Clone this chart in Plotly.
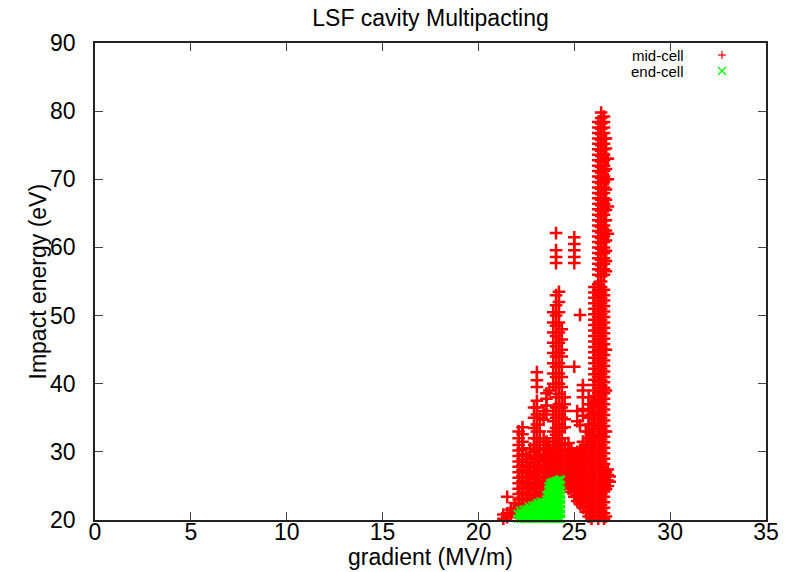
import plotly.graph_objects as go

# ---- data: mid-cell (red +) grouped by gradient column ----
mid_col_x = [21.3, 21.5, 21.7, 21.9, 22.1, 22.3, 22.5, 22.7, 22.9, 23.05, 23.2, 23.4,
             23.55, 23.7, 23.9, 24.05, 24.2, 24.35, 24.5, 24.7, 24.85, 25.0, 25.15,
             25.3, 25.45, 25.6, 25.75, 25.9, 26.05, 26.25, 26.4, 26.55, 26.65, 26.75, 26.85]
mid_col_y = [
    [20.2, 20.8],
    [20.4, 21.0, 23.4],
    [20.8, 21.5],
    [21.1, 21.8, 22.5],
    [21.4, 22.2, 23.0, 23.8, 24.6, 25.4, 26.2, 27.0, 27.8, 28.6, 29.4, 30.2, 31.0, 32.0, 33.0],
    [21.7, 22.5, 23.3, 24.1, 24.9, 25.7, 26.5, 27.3, 28.1, 28.9, 29.7, 30.5, 31.5, 32.6, 33.6],
    [22.1, 22.9, 23.7, 24.5, 25.3, 26.1, 26.9, 27.7, 28.5, 29.5],
    [22.4, 23.2, 24.0, 24.8, 25.6, 26.4, 27.2, 28.0, 29.0, 30.5],
    [22.8, 23.6, 24.4, 25.2, 26.0, 26.8, 27.6, 28.4, 29.2, 30.0, 31.0, 32.0, 33.5, 35.0, 36.5],
    [23.0, 23.8, 24.6, 25.4, 26.2, 27.0, 27.8, 28.6, 29.4, 30.2, 31.0, 32.0, 33.0, 34.0, 35.5,
     36.5, 37.5, 39.5, 40.5, 41.7],
    [23.3, 24.1, 24.9, 25.7, 26.5, 27.3, 28.1, 28.9, 29.7, 30.5, 31.5, 33.0, 35.0],
    [23.7, 24.5, 25.3, 26.1, 26.9, 27.7, 28.5, 29.3, 30.3, 32.0, 34.7, 36.0],
    [24.0, 24.8, 25.6, 26.4, 27.2, 28.0, 28.8, 29.6, 30.5, 31.5, 35.5, 36.8, 37.8, 38.6],
    [24.3, 25.1, 25.9, 26.7, 27.5, 28.3, 29.1, 30.0, 31.0, 39.0],
    [24.6, 25.4, 26.2, 27.0, 27.8, 28.6, 29.4, 30.2, 31.0, 32.0, 33.0, 34.5, 36.0, 40.0, 41.5,
     43.0, 44.5, 46.0, 47.5, 49.0, 50.5],
    [25.0, 25.8, 26.6, 27.4, 28.2, 29.0, 29.8, 30.6, 31.5, 32.5, 33.5, 35.0, 36.5, 38.0, 39.5,
     41.0, 42.5, 44.0, 45.5, 47.0, 48.5, 50.0, 51.5, 53.0, 57.7, 58.6, 59.6, 62.1],
    [25.3, 26.1, 26.9, 27.7, 28.5, 29.3, 30.1, 31.0, 32.0, 33.0, 34.0, 35.5, 37.0, 38.5, 40.0,
     41.5, 43.0, 44.5, 46.0, 47.5, 49.0, 50.5, 52.0, 53.5],
    [25.4, 26.2, 27.0, 27.8, 28.6, 29.4, 30.2, 31.0, 32.0, 33.5, 35.0, 36.5, 38.0, 39.5, 41.0,
     42.5, 44.0, 45.0, 46.5, 48.0],
    [25.2, 26.0, 26.8, 27.6, 28.4, 29.2, 30.0, 31.0, 33.6, 34.8, 36.0, 37.0, 38.0],
    [24.6, 25.4, 26.2, 27.0, 27.8, 28.6, 29.4, 30.2, 31.3],
    [24.1, 24.9, 25.7, 26.5, 27.3, 28.1, 28.9, 29.7, 30.5],
    [23.4, 24.2, 25.0, 25.8, 26.6, 27.4, 28.2, 29.0, 29.8, 42.5, 57.7, 58.6, 59.6, 60.5, 61.5],
    [22.8, 23.6, 24.4, 25.2, 26.0, 26.8, 27.6, 28.4, 29.2, 30.0, 34.5, 36.0],
    [22.3, 23.1, 23.9, 24.7, 25.5, 26.3, 27.1, 27.9, 28.7, 29.5, 30.3, 33.9, 50.1],
    [21.8, 22.6, 23.4, 24.2, 25.0, 25.8, 26.6, 27.4, 28.2, 29.0, 29.8, 30.6, 31.5, 35.3, 36.3,
     38.0, 39.0, 39.8],
    [21.2, 22.0, 22.8, 23.6, 24.4, 25.2, 26.0, 26.8, 27.6, 28.4, 29.2, 30.0, 31.0, 33.0],
    [20.5, 21.3, 22.1, 22.9, 23.7, 24.5, 25.3, 26.1, 26.9, 27.7, 28.5, 29.3, 30.1, 31.0, 32.0,
     33.0, 34.0, 35.0, 36.0, 37.0, 38.0],
    [20.2, 21.0, 21.8, 22.6, 23.4, 24.2, 25.0, 25.8, 26.6, 27.4, 28.2, 29.0, 29.8, 30.6, 31.4,
     32.5, 34.0, 35.5, 37.0],
    [20.6, 21.4, 22.2, 23.0, 23.8, 24.6, 25.4, 26.2, 27.0, 27.8, 28.6, 29.4, 30.2, 31.0, 31.8,
     32.6, 33.4, 34.2, 35.0, 35.8, 36.6, 37.4, 38.2, 39.0, 39.8, 40.6, 41.4, 42.2, 43.0, 43.8,
     44.6, 45.4, 46.2, 47.0, 47.8, 48.6, 49.4, 50.2, 51.0, 51.8, 52.6, 53.4, 54.2],
    [20.2, 21.0, 21.8, 22.6, 23.4, 24.2, 25.0, 25.8, 26.6, 27.4, 28.2, 29.0, 29.8, 30.6, 31.4,
     32.2, 33.0, 33.8, 34.6, 35.4, 36.2, 37.0, 37.8, 38.6, 39.4, 40.2, 41.0, 41.8, 42.6, 43.4,
     44.2, 45.0, 45.8, 46.6, 47.4, 48.2, 49.0, 49.8, 50.6, 51.4, 52.2, 53.0, 53.8, 54.6, 56.0,
     56.8, 57.6, 58.4, 59.2, 60.0, 60.8, 61.6, 62.4, 63.2, 64.0, 64.8, 65.6, 66.4, 67.2, 68.0,
     68.8, 69.6, 70.4, 71.2, 72.0, 72.8, 73.6, 74.4, 75.2, 76.0, 76.8, 77.6, 78.4],
    [20.6, 21.4, 22.2, 23.0, 23.8, 24.6, 25.4, 26.2, 27.0, 27.8, 28.6, 29.4, 30.2, 31.0, 31.8,
     32.6, 33.4, 34.2, 35.0, 35.8, 36.6, 37.4, 38.2, 39.0, 39.8, 40.6, 41.4, 42.2, 43.0, 43.8,
     44.6, 45.4, 46.2, 47.0, 47.8, 48.6, 49.4, 50.2, 51.0, 51.8, 52.6, 53.4, 54.2, 55.0, 55.8,
     56.6, 57.4, 58.2, 59.0, 59.8, 60.6, 61.4, 62.2, 63.0, 63.8, 64.6, 65.4, 66.2, 67.0, 67.8,
     68.6, 69.4, 70.2, 71.0, 71.8, 72.6, 73.4, 74.2, 75.0, 75.8, 76.6, 77.4, 78.2, 79.0, 79.8],
    [20.2, 21.0, 21.8, 22.6, 23.4, 24.2, 25.0, 25.8, 26.6, 27.4, 28.2, 29.0, 29.8, 30.6, 31.4,
     32.2, 33.0, 33.8, 34.6, 35.4, 36.2, 37.0, 37.8, 38.6, 39.4, 40.2, 41.0, 41.8, 42.6, 43.4,
     44.2, 45.0, 45.8, 46.6, 47.4, 48.2, 49.0, 49.8, 50.6, 51.4, 52.2, 53.0, 53.8, 56.0, 56.8,
     57.6, 58.4, 59.2, 60.0, 60.8, 61.6, 62.4, 63.2, 64.0, 64.8, 65.6, 66.4, 67.2, 68.0, 68.8,
     69.6, 70.4, 71.2, 72.0, 72.8, 73.6, 74.4, 75.2, 76.0, 76.8, 77.6, 78.4, 79.2],
    [20.5, 24.5, 27.0, 33.0, 39.0, 45.0, 56.5, 58.0, 59.5, 61.0, 62.5, 64.0, 65.5, 67.0, 68.5,
     70.0, 71.5, 73.0, 74.5, 76.0],
    [25.0, 25.8, 26.6, 27.4, 62.0, 66.0, 70.0, 73.0],
    [25.6, 26.4],
]

# ---- data: end-cell (green x) grouped by gradient column ----
end_col_x = [22.05, 22.2, 22.35, 22.5, 22.65, 22.8, 22.95, 23.1, 23.25, 23.4,
             23.55, 23.65, 23.75, 23.85, 23.95, 24.05, 24.15, 24.25, 24.3]
end_col_y = [
    [20.2, 20.9],
    [20.2, 20.9, 21.3],
    [20.2, 20.9, 21.5],
    [20.2, 20.9, 21.6],
    [20.2, 20.9, 21.6, 21.9],
    [20.2, 20.9, 21.6, 22.1],
    [20.2, 20.9, 21.6, 22.2],
    [20.2, 20.9, 21.6, 22.3, 22.5],
    [20.2, 20.9, 21.6, 22.3, 22.7],
    [20.2, 20.9, 21.6, 22.3, 22.6],
    [20.2, 20.9, 21.6, 22.3, 23.0, 23.6],
    [20.2, 20.9, 21.6, 22.3, 23.0, 23.7, 24.4, 24.9],
    [20.2, 20.9, 21.6, 22.3, 23.0, 23.7, 24.4, 25.1, 25.4],
    [20.2, 20.9, 21.6, 22.3, 23.0, 23.7, 24.4, 25.1, 25.5],
    [20.2, 20.9, 21.6, 22.3, 23.0, 23.7, 24.4, 25.1, 25.6],
    [20.2, 20.9, 21.6, 22.3, 23.0, 23.7, 24.4, 25.1, 25.7],
    [20.2, 20.9, 21.6, 22.3, 23.0, 23.7, 24.4, 25.1, 25.8],
    [20.2, 20.9, 21.6, 22.3, 23.0, 23.7, 24.4, 25.1, 25.9],
    [20.2, 20.9, 21.6, 22.3, 23.0, 23.7, 24.4, 25.1, 25.9],
]

x_ticks = [0, 5, 10, 15, 20, 25, 30, 35]
y_ticks = [20, 30, 40, 50, 60, 70, 80, 90]


def flatten(cols_x, cols_y):
    xs, ys = [], []
    for cx, cy in zip(cols_x, cols_y):
        for v in cy:
            xs.append(cx)
            ys.append(v)
    return xs, ys


mid_x, mid_y = flatten(mid_col_x, mid_col_y)
end_x, end_y = flatten(end_col_x, end_col_y)

RED = "#ff0000"
GREEN = "#00ff00"
FONT = "Liberation Sans"

fig = go.Figure()
fig.add_trace(go.Scatter(
    x=mid_x, y=mid_y, mode="markers", name="mid-cell", cliponaxis=False,
    marker=dict(symbol="cross-thin", size=9, color=RED, line=dict(color=RED, width=2.5)),
))
fig.add_trace(go.Scatter(
    x=end_x, y=end_y, mode="markers", name="end-cell", cliponaxis=False,
    marker=dict(symbol="x-thin", size=8, color=GREEN, line=dict(color=GREEN, width=2)),
))

axis_common = dict(
    showgrid=False, zeroline=False, showline=True, linecolor="#222", linewidth=1.5,
    mirror="ticks", ticks="inside", ticklen=8, tickwidth=1, tickcolor="#444",
    tickfont=dict(family=FONT, size=23, color="black"), automargin=False,
)
fig.update_xaxes(range=[0, 35], tickvals=x_ticks, ticklabelstandoff=-9, **axis_common)
fig.update_yaxes(range=[20, 90], tickvals=y_ticks, ticklabelstandoff=13, **axis_common)

W, H = 800, 572
ML, MR, MT, MB = 95, 34, 43, 52
pw, ph = W - ML - MR, H - MT - MB


def px(xp):
    return (xp - ML) / pw


def py(yp):
    return (H - MB - yp) / ph


# axis titles placed as in the reference
fig.add_annotation(x=0.5, y=py(557), xref="paper", yref="paper", text="gradient (MV/m)",
                   showarrow=False, xanchor="center", yanchor="middle",
                   font=dict(family=FONT, size=23, color="black"))
fig.add_annotation(x=px(37), y=0.5, xref="paper", yref="paper", text="Impact energy (eV)",
                   textangle=-90, showarrow=False, xanchor="center", yanchor="middle",
                   font=dict(family=FONT, size=23, color="black"))

# legend drawn gnuplot-style (text right-aligned, key symbol to the right)
legend_rows = [("mid-cell", RED, "plus", 55), ("end-cell", GREEN, "cross", 71)]
for label, col, kind, yp in legend_rows:
    fig.add_annotation(x=px(686), y=py(yp), xref="paper", yref="paper", text=label,
                       showarrow=False, xanchor="right", yanchor="middle",
                       font=dict(family=FONT, size=15, color="black"))
    cx, cy, r = 722, yp, 4
    if kind == "plus":
        fig.add_shape(type="line", xref="paper", yref="paper", x0=px(cx - r), x1=px(cx + r),
                      y0=py(cy), y1=py(cy), line=dict(color=col, width=1.2))
        fig.add_shape(type="line", xref="paper", yref="paper", x0=px(cx), x1=px(cx),
                      y0=py(cy - r), y1=py(cy + r), line=dict(color=col, width=1.2))
    else:
        fig.add_shape(type="line", xref="paper", yref="paper", x0=px(cx - r), x1=px(cx + r),
                      y0=py(cy - r), y1=py(cy + r), line=dict(color=col, width=1.2))
        fig.add_shape(type="line", xref="paper", yref="paper", x0=px(cx - r), x1=px(cx + r),
                      y0=py(cy + r), y1=py(cy - r), line=dict(color=col, width=1.2))

fig.update_layout(
    width=W, height=H,
    margin=dict(l=ML, r=MR, t=MT, b=MB),
    paper_bgcolor="white", plot_bgcolor="white",
    showlegend=False,
    title=dict(text="LSF cavity Multipacting", x=0.5, xref="paper", y=1 - 18 / H,
               yanchor="middle", font=dict(family=FONT, size=23, color="black")),
    font=dict(family=FONT, color="black"),
)

fig.write_html("out.html")
